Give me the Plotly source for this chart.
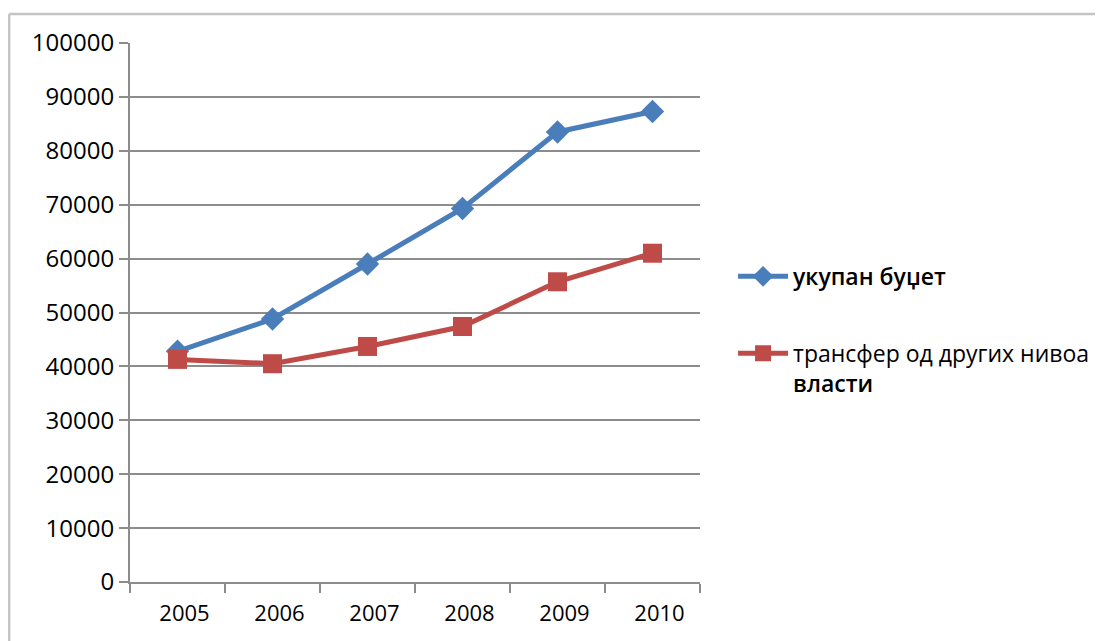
import plotly.graph_objects as go

years = ["2005", "2006", "2007", "2008", "2009", "2010"]
total_budget = [42800, 48800, 59000, 69300, 83500, 87300]
transfers = [41300, 40500, 43700, 47400, 55700, 61000]
y_ticks = [0, 10000, 20000, 30000, 40000, 50000, 60000, 70000, 80000, 90000, 100000]

FONT = "Open Sans"
GRID = "#8c8c8c"
SEMI = '<span style="font-weight:600">{}</span>'

fig = go.Figure()
fig.add_trace(go.Scatter(
    x=years, y=total_budget, name=SEMI.format("укупан буџет"), mode="lines+markers",
    line=dict(color="#4A7EBB", width=5),
    marker=dict(symbol="diamond", size=18, color="#4A7EBB"),
    legendgroup="a",
))
fig.add_trace(go.Scatter(
    x=years, y=transfers, name="трансфер од других нивоа<br>" + SEMI.format("власти"),
    mode="lines+markers",
    line=dict(color="#BE4B48", width=5),
    marker=dict(symbol="square", size=19, color="#BE4B48"),
    legendgroup="b",
))

fig.update_layout(
    width=1103, height=641,
    margin=dict(l=122, r=411, t=35, b=67),
    paper_bgcolor="white", plot_bgcolor="white",
    font=dict(family=FONT, size=22, color="#000000"),
    showlegend=True,
    legend=dict(
        x=1.058, y=0.607, xanchor="left", yanchor="top",
        font=dict(family=FONT, size=23, color="#000000"),
        traceorder="grouped", tracegroupgap=44, valign="top",
        itemwidth=50, bgcolor="rgba(0,0,0,0)",
    ),
    shapes=[
        dict(type="line", xref="paper", yref="paper", x0=-0.212, x1=1.8, y0=1.054, y1=1.054,
             line=dict(color="#c4c4c4", width=2.5)),
        dict(type="line", xref="paper", yref="paper", x0=-0.212, x1=-0.212, y0=1.054, y1=-0.2,
             line=dict(color="#c4c4c4", width=2.5)),
    ],
)
fig.update_xaxes(
    type="category", range=[-0.5, 5.5],
    showgrid=False, showline=True, linecolor=GRID, linewidth=2,
    ticks="outside", tickson="boundaries", ticklen=9, tickcolor=GRID, tickwidth=2,
    tickfont=dict(family=FONT, size=22), ticklabelstandoff=11, ticklabelshift=7,
)
fig.update_yaxes(
    range=[0, 100000], tickvals=y_ticks, tickformat="d",
    showgrid=True, gridcolor=GRID, gridwidth=2,
    showline=True, linecolor=GRID, linewidth=2,
    ticks="outside", ticklen=9, tickcolor=GRID, tickwidth=2,
    tickfont=dict(family=FONT, size=24), zeroline=False,
)

fig.write_html("out.html")
